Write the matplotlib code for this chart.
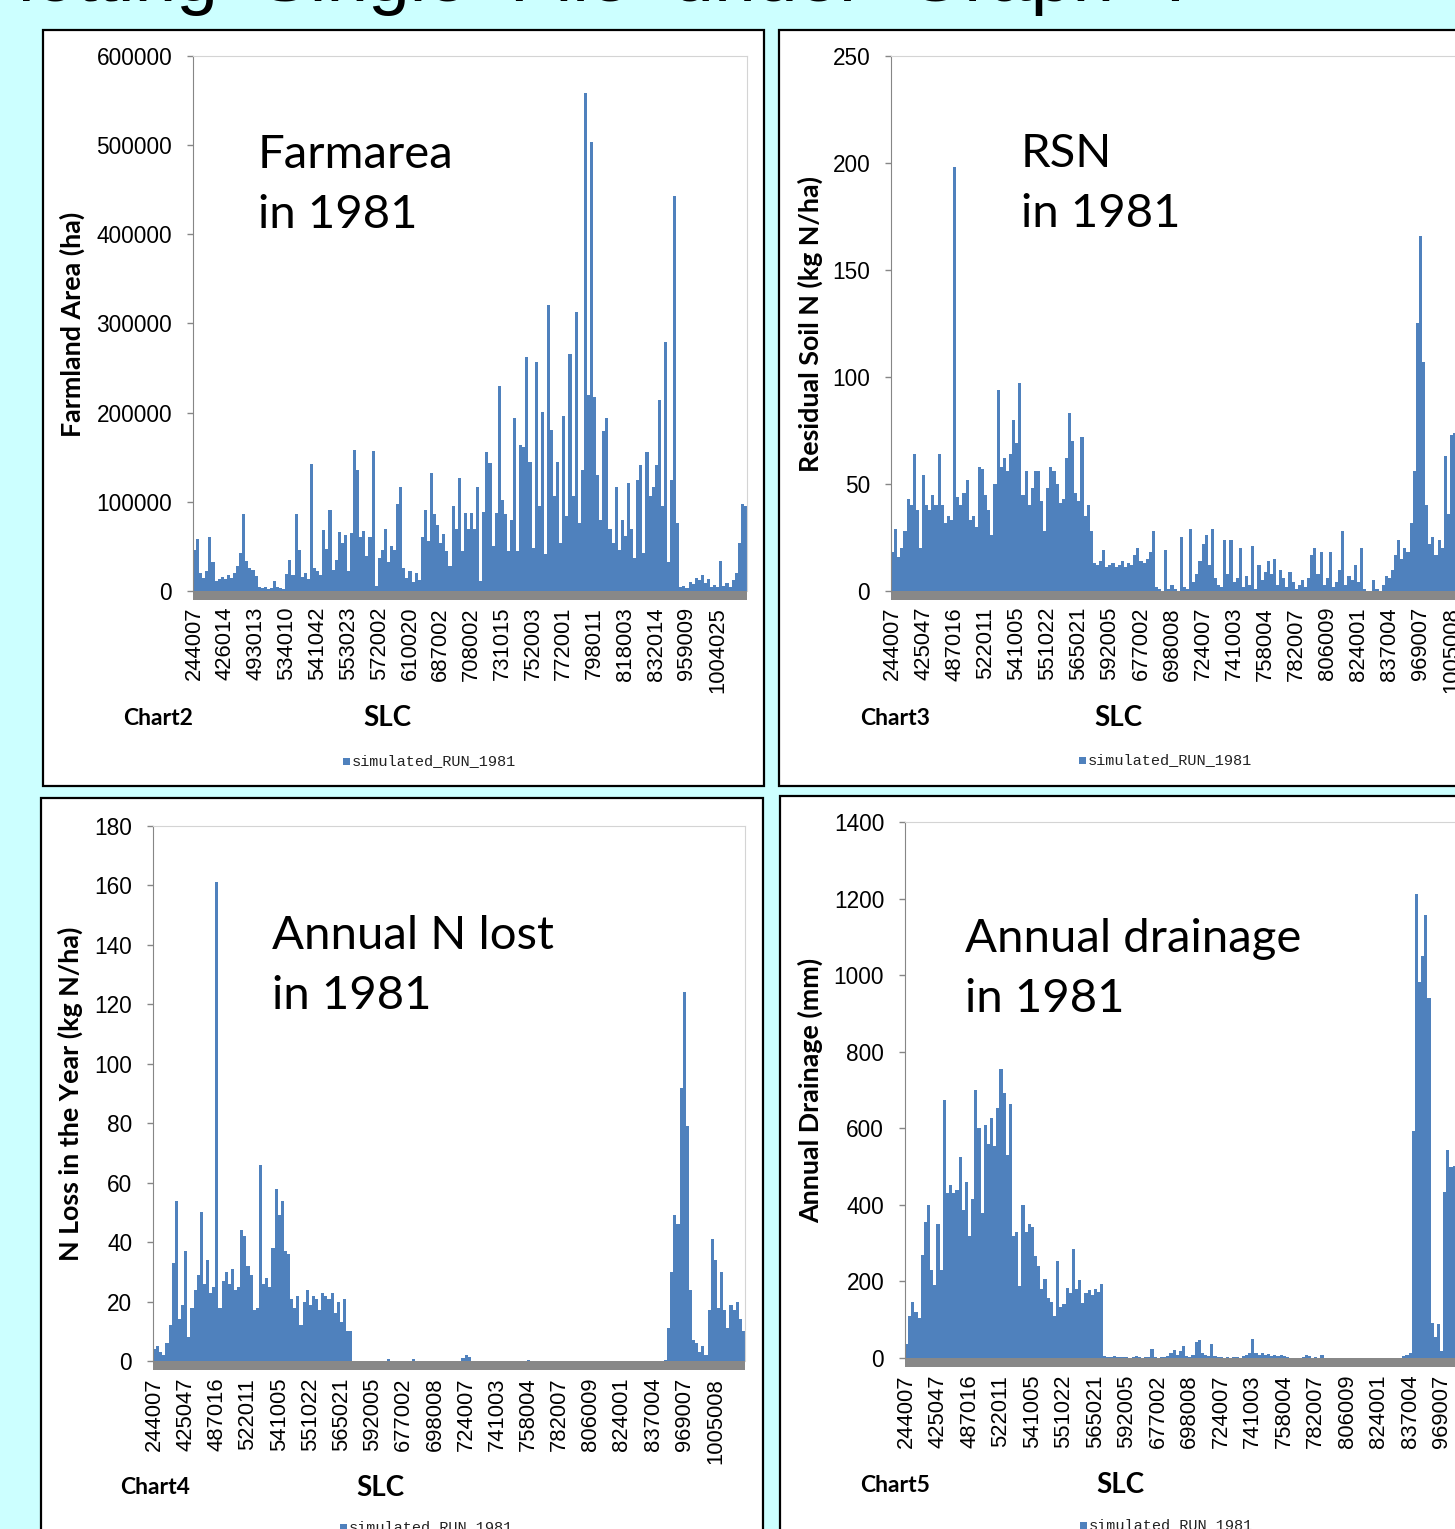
import numpy as np
import matplotlib
matplotlib.use("Agg")
import matplotlib.pyplot as plt
from matplotlib.patches import Rectangle

W, H = 1455, 1529
BLUE = "#4f81bd"
FLOOR = "#888888"
BG = "#ccffff"

# SLC ids shown on the category axes (every 10th polygon)
slc_farm = ["244007", "426014", "493013", "534010", "541042", "553023", "572002",
            "610020", "687002", "708002", "731015", "752003", "772001", "798011",
            "818003", "832014", "959009", "1004025"]
slc_run = ["244007", "425047", "487016", "522011", "541005", "551022", "565021",
           "592005", "677002", "698008", "724007", "741003", "758004", "782007",
           "806009", "824001", "837004", "969007", "1005008"]

# farmland area per SLC polygon (ha)
farmarea_1981 = [
    46000, 58000, 20000, 15000, 22000, 60000, 32000, 11000, 14000, 16000,
    13000, 18000, 15000, 20000, 28000, 43000, 86000, 34000, 26000, 24000,
    17000, 5000, 3000, 4000, 2000, 3000, 11000, 4000, 3000, 2000,
    19000, 35000, 18000, 86000, 46000, 16000, 20000, 14000, 142000, 26000,
    22000, 18000, 68000, 47000, 91000, 24000, 35000, 66000, 54000, 63000,
    22000, 65000, 158000, 136000, 60000, 67000, 39000, 60000, 157000, 6000,
    37000, 46000, 70000, 33000, 50000, 46000, 98000, 117000, 26000, 15000,
    22000, 10000, 20000, 12000, 61000, 91000, 56000, 132000, 86000, 74000,
    54000, 64000, 45000, 28000, 95000, 69000, 127000, 45000, 88000, 69000,
    87000, 69000, 117000, 11000, 89000, 156000, 143000, 50000, 88000, 230000,
    102000, 86000, 45000, 80000, 194000, 45000, 164000, 162000, 262000, 145000,
    48000, 257000, 95000, 201000, 41000, 321000, 181000, 106000, 145000, 54000,
    196000, 84000, 266000, 106000, 313000, 76000, 136000, 559000, 220000, 503000,
    218000, 130000, 80000, 179000, 194000, 69000, 54000, 117000, 46000, 80000,
    62000, 121000, 69000, 37000, 125000, 141000, 43000, 156000, 106000, 117000,
    141000, 214000, 95000, 279000, 33000, 125000, 443000, 76000, 4000, 6000,
    3000, 10000, 8000, 15000, 12000, 18000, 9000, 14000, 5000, 7000,
    4000, 34000, 6000, 9000, 5000, 12000, 20000, 54000, 98000, 95000,
]

# residual soil N (kg N/ha)
rsn_1981 = [
    18, 29, 16, 20, 28, 43, 40, 64, 38, 20,
    54, 40, 38, 45, 40, 64, 40, 32, 35, 33,
    198, 44, 40, 46, 52, 33, 35, 30, 58, 57,
    45, 38, 26, 50, 94, 58, 62, 56, 64, 80,
    69, 97, 45, 56, 40, 48, 56, 56, 42, 28,
    48, 58, 56, 50, 41, 43, 62, 83, 70, 46,
    42, 72, 35, 40, 28, 13, 12, 14, 19, 11,
    12, 13, 11, 12, 14, 11, 13, 12, 17, 20,
    14, 13, 15, 18, 28, 2, 1, 0, 19, 1,
    3, 1, 0, 25, 2, 1, 29, 4, 8, 14,
    22, 26, 12, 29, 6, 3, 2, 24, 8, 24,
    4, 6, 20, 2, 7, 3, 21, 1, 12, 5,
    9, 14, 8, 15, 3, 10, 6, 2, 9, 4,
    1, 3, 5, 2, 6, 17, 20, 8, 18, 3,
    6, 18, 2, 4, 10, 28, 3, 7, 5, 12,
    4, 20, 1, 0, 0, 5, 1, 0, 3, 7,
    6, 10, 17, 24, 15, 20, 18, 32, 56, 125,
    166, 107, 40, 22, 25, 17, 24, 20, 63, 36,
    73, 74, 40, 45, 38, 60, 52, 30, 41, 36,
]

# annual N loss (kg N/ha)
n_lost_1981 = [
    4, 5, 3, 2, 6, 12, 33, 54, 14, 19,
    37, 8, 18, 24, 29, 50, 26, 34, 23, 25,
    161, 18, 27, 30, 26, 31, 24, 25, 44, 42,
    32, 29, 17, 18, 66, 26, 28, 25, 38, 58,
    49, 54, 37, 36, 21, 18, 22, 12, 20, 24,
    19, 22, 21, 17, 23, 22, 21, 23, 16, 20,
    13, 21, 10, 10, 0, 0, 0, 0, 0, 0,
    0, 0, 0, 0, 0, 0.6, 0, 0, 0, 0,
    0, 0, 0, 0.6, 0, 0, 0, 0, 0, 0,
    0, 0, 0, 0, 0, 0, 0, 0, 0, 1,
    2, 1.2, 0, 0, 0, 0, 0, 0, 0, 0,
    0, 0, 0, 0, 0, 0, 0, 0, 0, 0,
    0.5, 0, 0, 0, 0, 0, 0, 0, 0, 0,
    0, 0, 0, 0, 0, 0, 0, 0, 0, 0,
    0, 0, 0, 0, 0, 0, 0, 0, 0, 0,
    0, 0, 0, 0, 0, 0, 0, 0, 0, 0,
    0, 0, 0, 0, 0.3, 11, 30, 49, 46, 92,
    124, 79, 24, 7, 6, 3, 5, 2, 17, 41,
    34, 18, 30, 17, 11, 19, 17, 20, 14, 10,
]

# annual drainage (mm)
drainage_1981 = [
    37, 110, 147, 120, 105, 270, 355, 400, 230, 190,
    350, 230, 673, 430, 452, 430, 440, 525, 387, 460,
    318, 415, 700, 600, 378, 608, 560, 627, 553, 654,
    756, 691, 530, 664, 318, 330, 189, 400, 330, 350,
    341, 267, 240, 180, 207, 157, 147, 110, 253, 134,
    140, 184, 170, 284, 180, 203, 143, 170, 178, 165,
    180, 172, 194, 4, 3, 2, 4, 3, 2, 3,
    2, 1, 3, 5, 2, 1, 3, 2, 23, 2,
    1, 3, 2, 4, 14, 20, 8, 18, 32, 6,
    3, 9, 41, 46, 12, 8, 5, 37, 6, 3,
    2, 1, 2, 1, 3, 2, 1, 4, 8, 12,
    50, 12, 9, 14, 8, 10, 6, 8, 5, 7,
    4, 2, 1, 0, 1, 0, 2, 9, 6, 1,
    2, 1, 9, 1, 0, 0, 1, 0, 0, 0,
    0, 0, 0, 0, 0, 0, 0, 0, 0, 0,
    0, 0, 0, 0, 0, 0, 0, 0, 5, 9,
    12, 594, 1212, 982, 1051, 1157, 940, 92, 55, 88,
    18, 433, 544, 498, 502, 424, 380, 300, 250, 420,
    350, 200, 310, 280, 150, 260, 330, 240, 190, 270,
]


def fx(x):
    return x / W


def fy(y):
    return 1 - y / H


def panel(fig, x0, y0, x1, y1):
    fig.add_artist(Rectangle((fx(x0), fy(y1)), (x1 - x0) / W, (y1 - y0) / H,
                             transform=fig.transFigure, facecolor="white",
                             edgecolor="black", lw=1.6, zorder=-10))


def bar_chart(fig, box, values, labels, yticks, label_pad):
    x0, y0, x1, y1 = box
    ax = fig.add_axes([fx(x0), fy(y1), (x1 - x0) / W, (y1 - y0) / H])
    n = len(values)
    ax.bar(np.arange(n), values, width=1.0, color=BLUE, linewidth=0)
    ax.set_xlim(-0.5, n - 0.5)
    ax.set_ylim(yticks[0], yticks[-1])
    ax.set_yticks(yticks)
    ax.set_yticklabels([str(t) for t in yticks], fontsize=16.3,
                       family="Liberation Sans")
    step = n // len(labels)
    ax.set_xticks(np.arange(len(labels)) * step)
    ax.set_xticklabels(labels, rotation=90, fontsize=15.8,
                       family="Liberation Sans")
    ax.tick_params(axis="x", length=0, pad=label_pad)
    ax.tick_params(axis="y", length=4, width=1, color="#868686", pad=11)
    ax.spines["left"].set_color("#868686")
    ax.spines["bottom"].set_visible(False)
    for s in ("top", "right"):
        ax.spines[s].set_color("#d4d4d4")
    # grey floor strip under the baseline
    h = 9 / (y1 - y0)
    ax.add_patch(Rectangle((0, -h), 1, h, transform=ax.transAxes,
                           facecolor=FLOOR, edgecolor="none", clip_on=False))
    return ax


def chart_text(fig, title, tx, ty, ylab, ylx, yly, chart_name, cx, slcx, ly, legx, legy):
    lines = title.split("\n")
    for i, line in enumerate(lines):
        fig.text(fx(tx), fy(ty + 60 * i), line, fontsize=34, family="Lato",
                 va="baseline", ha="left")
    fig.text(fx(ylx), fy(yly), ylab, rotation=90, fontsize=19.4, family="Lato",
             weight="bold", ha="center", va="center")
    fig.text(fx(cx), fy(ly), chart_name, fontsize=16.5, family="Lato",
             weight="bold", ha="left", va="center")
    fig.text(fx(slcx), fy(ly), "SLC", fontsize=20, family="Lato",
             weight="bold", ha="center", va="center")
    fig.add_artist(Rectangle((fx(legx), fy(legy + 3.5)), 7 / W, 7 / H,
                             transform=fig.transFigure, facecolor=BLUE,
                             edgecolor="none"))
    fig.text(fx(legx + 9), fy(legy), "simulated_RUN_1981", fontsize=11,
             family="Liberation Mono", color="#222222", ha="left", va="center")


fig = plt.figure(figsize=(W / 100, H / 100), dpi=100, facecolor=BG)

# slide heading, mostly above the visible area
fig.text(fx(-32), fy(1), "Plotting  Single  File  under  Graph  ?", fontsize=54,
         family="Liberation Sans", va="baseline", ha="left")

panel(fig, 43, 30, 764, 786)
panel(fig, 779, 30, 1500, 786)
panel(fig, 41, 798, 763, 1560)
panel(fig, 780, 796, 1500, 1560)

bar_chart(fig, (193, 56, 747, 591), farmarea_1981, slc_farm,
          list(range(0, 600001, 100000)), 11.5)
bar_chart(fig, (891, 56, 1481, 591), rsn_1981, slc_run,
          list(range(0, 251, 50)), 11.5)
bar_chart(fig, (153, 826, 745, 1361), n_lost_1981, slc_run,
          list(range(0, 181, 20)), 12)
bar_chart(fig, (905, 822, 1503, 1358), drainage_1981, slc_run,
          list(range(0, 1401, 200)), 12)

chart_text(fig, "Farmarea\nin 1981", 258, 168, "Farmland Area (ha)", 72, 324,
           "Chart2", 123, 387, 718, 343, 761)
chart_text(fig, "RSN\nin 1981", 1021, 167, "Residual Soil N (kg N/ha)", 810, 324,
           "Chart3", 860, 1118, 718, 1079, 760)
chart_text(fig, "Annual N lost\nin 1981", 272, 949, "N Loss in the Year (kg N/ha)",
           70, 1094, "Chart4", 120, 380, 1488, 340, 1527)
chart_text(fig, "Annual drainage\nin 1981", 965, 952, "Annual Drainage (mm)", 810,
           1090, "Chart5", 860, 1120, 1485, 1080, 1525)

fig.savefig("out.png", dpi=100, facecolor=BG)
